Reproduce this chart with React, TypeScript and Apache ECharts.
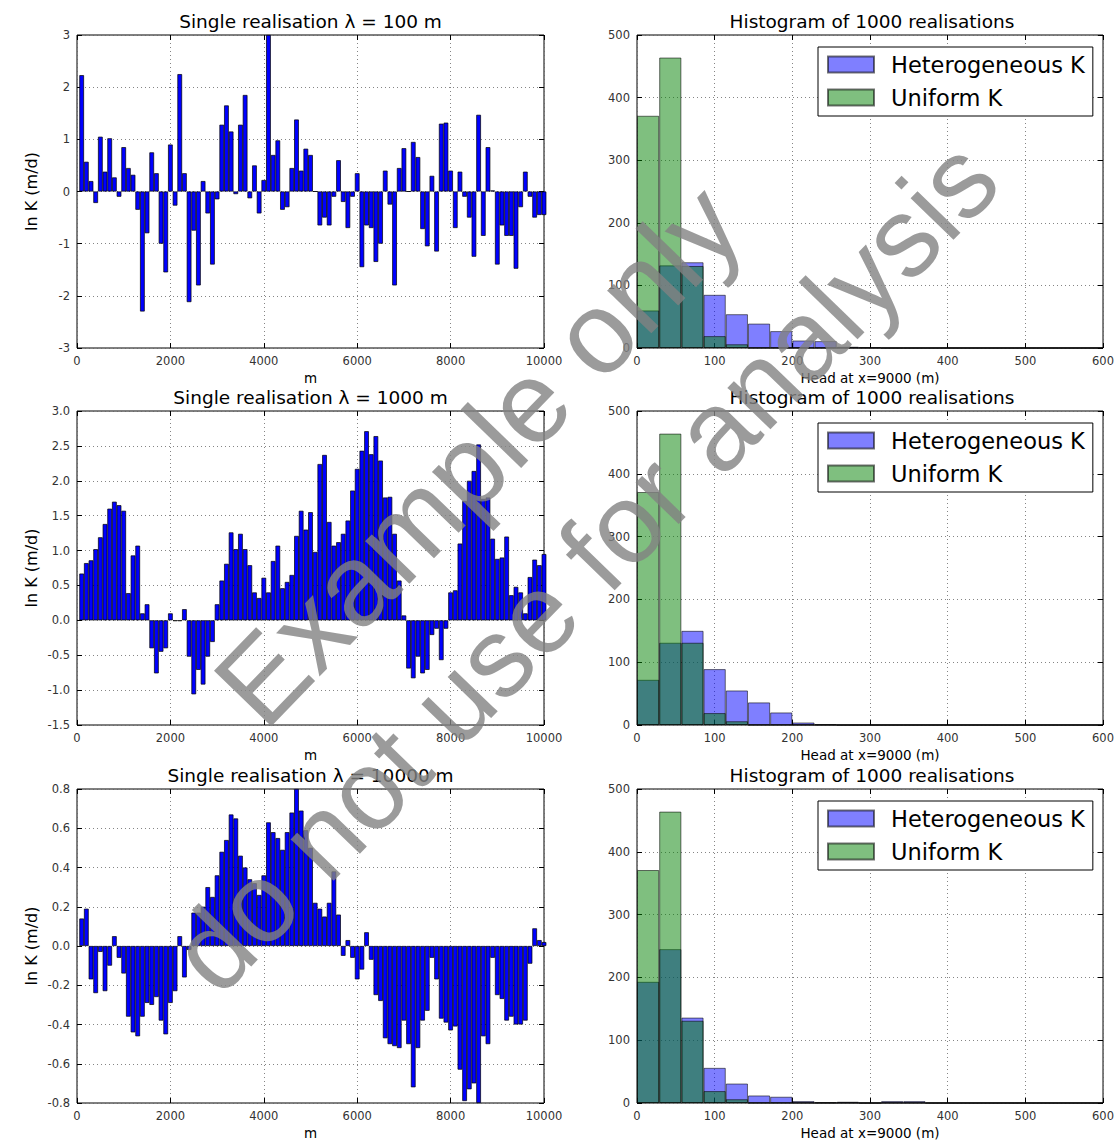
import React, { useEffect, useRef } from "react";
import * as echarts from "echarts";

const FONT = "DejaVu Sans";

// ---------- Left column: single realisations (ln K per 100 m cell) ----------
const cellCentres = Array.from({ length: 100 }, (_, i) => (i + 1) * 100);

const lnK100 = [
  2.23, 0.57, 0.2, -0.22, 1.05, 0.38, 1.02, 0.27, -0.1, 0.85,
  0.45, 0.32, -0.35, -2.3, -0.8, 0.75, 0.35, -1.0, -1.55, 0.9,
  -0.27, 2.25, 0.35, -2.12, -0.75, -1.8, 0.2, -0.42, -1.4, -0.15,
  1.28, 1.65, 1.15, -0.05, 1.28, 1.85, -0.13, 0.5, -0.42, 0.22,
  3.0, 0.7, 0.98, -0.35, -0.3, 0.45, 1.38, 0.4, 0.82, 0.7,
  0.0, -0.65, -0.5, -0.65, -0.1, 0.6, -0.2, -0.7, -0.1, 0.35,
  -1.45, -0.65, -0.7, -1.35, -1.0, 0.4, -0.25, -1.8, 0.45, 0.83,
  0.0, 0.95, 0.66, -0.72, -1.05, 0.3, -1.15, 1.3, 1.32, 0.4,
  -0.7, 0.38, -0.1, -0.5, -1.25, 1.47, -0.85, 0.85, 0.02, -1.4,
  -0.65, -0.85, -0.85, -1.48, -0.3, 0.38, -0.1, -0.5, -0.45, -0.45,
];

const lnK1000 = [
  0.67, 0.82, 0.86, 1.02, 1.19, 1.38, 1.6, 1.7, 1.65, 1.57,
  0.39, 0.93, 1.07, 0.1, 0.23, -0.4, -0.76, -0.45, -0.4, 0.1,
  -0.01, -0.01, 0.16, -0.52, -1.06, -0.71, -0.92, -0.52, -0.31, 0.23,
  0.57, 0.81, 1.26, 1.02, 1.24, 1.02, 0.79, 0.4, 0.32, 0.61,
  0.4, 0.85, 1.07, 0.46, 0.55, 0.65, 1.21, 1.57, 1.3, 1.55,
  0.98, 2.24, 2.37, 1.41, 1.07, 1.12, 1.24, 1.43, 1.86, 2.17,
  2.43, 2.71, 2.38, 2.64, 2.29, 1.76, 1.77, 1.24, 0.57, 0.07,
  -0.69, -0.83, -0.52, -0.76, -0.71, -0.21, -0.12, -0.57, -0.12, 0.4,
  0.43, 1.1, 1.71, 2.0, 2.14, 2.52, 1.74, 1.76, 1.17, 0.88,
  0.9, 1.2, 0.36, 0.48, 0.4, 0.1, 0.62, 0.87, 0.79, 0.95,
];

const lnK10000 = [
  0.14, 0.19, -0.17, -0.24, -0.03, -0.23, -0.1, 0.05, -0.06, -0.14,
  -0.36, -0.44, -0.46, -0.36, -0.29, -0.3, -0.26, -0.38, -0.45, -0.29,
  -0.23, 0.05, -0.16, -0.02, 0.17, 0.17, 0.2, 0.3, 0.25, 0.36,
  0.48, 0.54, 0.67, 0.65, 0.46, 0.4, 0.34, 0.32, 0.26, 0.36,
  0.63, 0.58, 0.55, 0.49, 0.58, 0.68, 0.8, 0.69, 0.59, 0.5,
  0.22, 0.19, 0.15, 0.22, 0.38, 0.16, -0.05, 0.03, -0.06, -0.17,
  -0.12, 0.07, -0.07, -0.25, -0.28, -0.47, -0.5, -0.51, -0.52, -0.38,
  -0.5, -0.72, -0.52, -0.38, -0.33, -0.06, -0.17, -0.37, -0.39, -0.43,
  -0.41, -0.63, -0.79, -0.73, -0.7, -0.8, -0.46, -0.5, -0.06, -0.25,
  -0.27, -0.38, -0.36, -0.4, -0.4, -0.38, -0.09, 0.09, 0.03, 0.02,
];

const leftTitles = [
  "Single realisation \u03bb = 100 m",
  "Single realisation \u03bb = 1000 m",
  "Single realisation \u03bb = 10000 m",
];
const leftYTicks = [
  { min: -3, max: 3, interval: 1, dec: 0 },
  { min: -1.5, max: 3, interval: 0.5, dec: 1 },
  { min: -0.8, max: 0.8, interval: 0.2, dec: 1 },
];

// ---------- Right column: histograms of head at x = 9000 m ----------
const binWidth = 600 / 21;
const binCentres = Array.from({ length: 21 }, (_, i) => (i + 0.5) * binWidth);

const hetK100 = [60, 132, 137, 85, 54, 39, 27, 12, 11, 2, 1, 0, 0, 0, 0, 0, 0, 0, 0, 0, 0];
const hetK1000 = [72, 131, 150, 89, 55, 36, 20, 4, 1, 0, 0, 0, 0, 0, 0, 0, 0, 0, 0, 0, 0];
const hetK10000 = [193, 245, 136, 56, 31, 12, 10, 3, 1, 2, 0, 3, 3, 0, 0, 0, 0, 0, 0, 0, 0];
const uniformK = [371, 464, 131, 19, 6, 0, 0, 0, 0, 0, 0, 0, 0, 0, 0, 0, 0, 0, 0, 0, 0];

const rightTitle = "Histogram of 1000 realisations";
const seriesNames = ["Heterogeneous K", "Uniform K"];

// ---------- layout ----------
const ROW_TOP = [35, 411, 789];
const ROW_H = [313, 314, 314];
const LX = 77, LW = 467, RX = 637, RW = 470;

function axisPair(kind: "x" | "y", gridIndex: number, cfg: any, name: string, nameGap: number, nameSize: number, fmt?: (v: number) => string) {
  const main: any = {
    type: "value",
    gridIndex,
    position: kind === "x" ? "bottom" : "left",
    min: cfg.min,
    max: cfg.max,
    interval: cfg.interval,
    axisLine: { show: false, onZero: false },
    axisTick: { show: true, inside: true, length: 5, lineStyle: { color: "#000", width: 1 } },
    axisLabel: {
      show: true,
      fontSize: 11.5,
      fontFamily: FONT,
      color: "#333",
      margin: 7,
      showMinLabel: true,
      showMaxLabel: true,
      formatter: fmt || ((v: number) => String(v)),
    },
    splitLine: { show: true, lineStyle: { color: "#666", width: 0.8, type: [1, 3] } },
    name,
    nameLocation: "middle",
    nameGap,
    nameTextStyle: { fontSize: nameSize, fontFamily: FONT, color: "#000" },
  };
  const second: any = {
    type: "value",
    gridIndex,
    position: kind === "x" ? "top" : "right",
    min: cfg.min,
    max: cfg.max,
    interval: cfg.interval,
    axisLine: { show: false, onZero: false },
    axisTick: { show: true, inside: true, length: 5, lineStyle: { color: "#000", width: 1 } },
    axisLabel: { show: false },
    splitLine: { show: false },
  };
  return [main, second];
}

function buildOption() {
  const grid: any[] = [];
  const xAxis: any[] = [];
  const yAxis: any[] = [];
  const series: any[] = [];
  const legend: any[] = [];
  const graphic: any[] = [];
  const lnK = [lnK100, lnK1000, lnK10000];
  const het = [hetK100, hetK1000, hetK10000];

  for (let r = 0; r < 3; r++) {
    // ----- left panel -----
    const pl = 2 * r;
    grid.push({ left: LX, top: ROW_TOP[r], width: LW, height: ROW_H[r], show: true, borderColor: "#000", borderWidth: 1, backgroundColor: "transparent" });
    xAxis.push(...axisPair("x", pl, { min: 0, max: 10000, interval: 2000 }, "m", 23, 13.5));
    const yc = leftYTicks[r];
    yAxis.push(
      ...axisPair("y", pl, yc, "ln K (m/d)", 38, 16, (v: number) => (Math.abs(v) < 1e-9 ? (0).toFixed(yc.dec) : v.toFixed(yc.dec)))
    );
    series.push({
      type: "bar",
      xAxisIndex: 2 * pl,
      yAxisIndex: 2 * pl,
      data: cellCentres.map((x, i) => [x, lnK[r][i]]),
      barWidth: "100%",
      clip: true,
      silent: true,
      itemStyle: { color: "#0000ff", borderColor: "#000", borderWidth: 0.7 },
    });
    graphic.push({
      type: "text",
      x: LX + LW / 2,
      y: ROW_TOP[r] - 14,
      style: { text: leftTitles[r], fontSize: 18.5, fontFamily: FONT, fill: "#000", textAlign: "center", textVerticalAlign: "middle" },
    });

    // ----- right panel -----
    const pr = 2 * r + 1;
    grid.push({ left: RX, top: ROW_TOP[r], width: RW, height: ROW_H[r], show: true, borderColor: "#000", borderWidth: 1, backgroundColor: "transparent" });
    xAxis.push(...axisPair("x", pr, { min: 0, max: 600, interval: 100 }, "Head at x=9000 (m)", 23, 13.5));
    yAxis.push(...axisPair("y", pr, { min: 0, max: 500, interval: 100 }, "", 0, 12));
    series.push({
      name: seriesNames[0],
      type: "bar",
      xAxisIndex: 2 * pr,
      yAxisIndex: 2 * pr,
      data: binCentres.map((x, i) => [x, het[r][i]]),
      barWidth: "100%",
      barGap: "-100%",
      silent: true,
      itemStyle: { color: "rgba(0,0,255,0.5)", borderColor: "rgba(0,0,0,0.55)", borderWidth: 1 },
    });
    series.push({
      name: seriesNames[1],
      type: "bar",
      xAxisIndex: 2 * pr,
      yAxisIndex: 2 * pr,
      data: binCentres.map((x, i) => [x, uniformK[i]]),
      barWidth: "100%",
      barGap: "-100%",
      silent: true,
      itemStyle: { color: "rgba(0,128,0,0.5)", borderColor: "rgba(0,0,0,0.55)", borderWidth: 1 },
    });
    legend.push({
      data: seriesNames,
      orient: "vertical",
      left: 818,
      top: ROW_TOP[r] + 12,
      icon: "rect",
      itemWidth: 46,
      itemHeight: 16,
      itemGap: 10,
      padding: [6, 8, 7, 9],
      borderColor: "#000",
      borderWidth: 1,
      backgroundColor: "#fff",
      selectedMode: false,
      textStyle: { fontSize: 22.5, fontFamily: FONT, color: "#000", padding: [0, 0, 0, 12] },
    });
    graphic.push({
      type: "text",
      x: RX + RW / 2,
      y: ROW_TOP[r] - 14,
      style: { text: rightTitle, fontSize: 18.5, fontFamily: FONT, fill: "#000", textAlign: "center", textVerticalAlign: "middle" },
    });
  }

  // watermark
  const wmAngle = (46 * Math.PI) / 180;
  graphic.push({
    type: "text",
    x: 478,
    y: 455,
    rotation: wmAngle,
    z: 100,
    silent: true,
    style: { text: "Example only", fontSize: 116, fontFamily: "Liberation Sans", fill: "rgba(130,130,130,0.8)", textAlign: "center", textVerticalAlign: "middle" },
  });
  graphic.push({
    type: "text",
    x: 584,
    y: 566,
    rotation: wmAngle,
    z: 100,
    silent: true,
    style: { text: "do not use for analysis", fontSize: 113, fontFamily: "Liberation Sans", fill: "rgba(130,130,130,0.8)", textAlign: "center", textVerticalAlign: "middle" },
  });

  return {
    animation: false,
    backgroundColor: "#fff",
    grid,
    xAxis,
    yAxis,
    series,
    legend,
    graphic,
  };
}

export default function App() {
  const ref = useRef<HTMLDivElement>(null);
  useEffect(() => {
    const chart = echarts.init(ref.current!, null, { renderer: "svg" });
    chart.setOption(buildOption() as any);
    return () => chart.dispose();
  }, []);
  return (
    <div
      ref={ref}
      style={{ position: "absolute", left: 0, top: 0, width: 1117, height: 1146, background: "#fff" }}
    />
  );
}
